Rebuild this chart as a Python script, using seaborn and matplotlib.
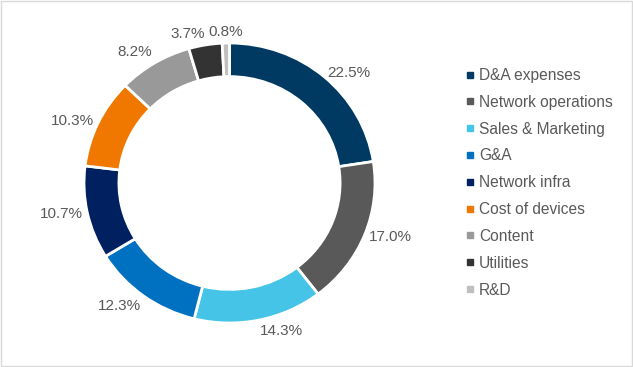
import numpy as np
import matplotlib
matplotlib.use('Agg')
import matplotlib.pyplot as plt
from matplotlib.lines import Line2D
from matplotlib.patches import Rectangle
import seaborn as sns

# Cost breakdown data
categories = ['D&A expenses', 'Network operations', 'Sales & Marketing', 'G&A',
              'Network infra', 'Cost of devices', 'Content', 'Utilities', 'R&D']
shares = [22.5, 17.0, 14.3, 12.3, 10.7, 10.3, 8.2, 3.7, 0.8]
colors = ['#003A63', '#595959', '#45C4E8', '#0070C0', '#002060',
          '#F07800', '#999999', '#333333', '#BFBFBF']

sns.set_theme(style='white')
plt.rcParams['font.family'] = ['Liberation Sans', 'DejaVu Sans']
text_color = '#595959'

fig = plt.figure(figsize=(6.33, 3.67), dpi=100)
ax = fig.add_axes([84 / 633, 44 / 367, 291 / 633, 280 / 367])

palette = sns.color_palette(colors)
wedges, _ = ax.pie(shares, colors=palette, startangle=90, counterclock=False,
                   wedgeprops=dict(width=0.24, edgecolor='white', linewidth=2))
ax.set_aspect('auto')
ax.set_xlim(-1, 1)
ax.set_ylim(-1, 1)

# percentage labels just outside the ring
R = 1.03
for w, v in zip(wedges, shares):
    ang = np.deg2rad((w.theta1 + w.theta2) / 2)
    c, s = np.cos(ang), np.sin(ang)
    ha = 'left' if c > 0.15 else ('right' if c < -0.15 else 'center')
    va = 'bottom' if s > 0.8 else ('top' if s < -0.8 else 'center')
    ax.text(R * c, R * s, f'{v:.1f}%', ha=ha, va=va, fontsize=11, color=text_color)

# legend with small square markers
handles = [Line2D([0], [0], marker='s', linestyle='none', markersize=4,
                  markerfacecolor=col, markeredgecolor=col) for col in colors]
fig.legend(handles, categories, loc='upper left', bbox_to_anchor=(466 / 633, 1 - 68 / 367),
           frameon=False, fontsize=11.2, labelcolor=text_color, handlelength=0.5,
           handletextpad=0.35, labelspacing=0.76, borderpad=0, borderaxespad=0)

# thin grey frame around the picture
fig.patches.append(Rectangle((0.001, 0.002), 0.997, 0.995, transform=fig.transFigure,
                             fill=False, edgecolor='#D9D9D9', linewidth=1))

fig.savefig('out.png', dpi=100)
